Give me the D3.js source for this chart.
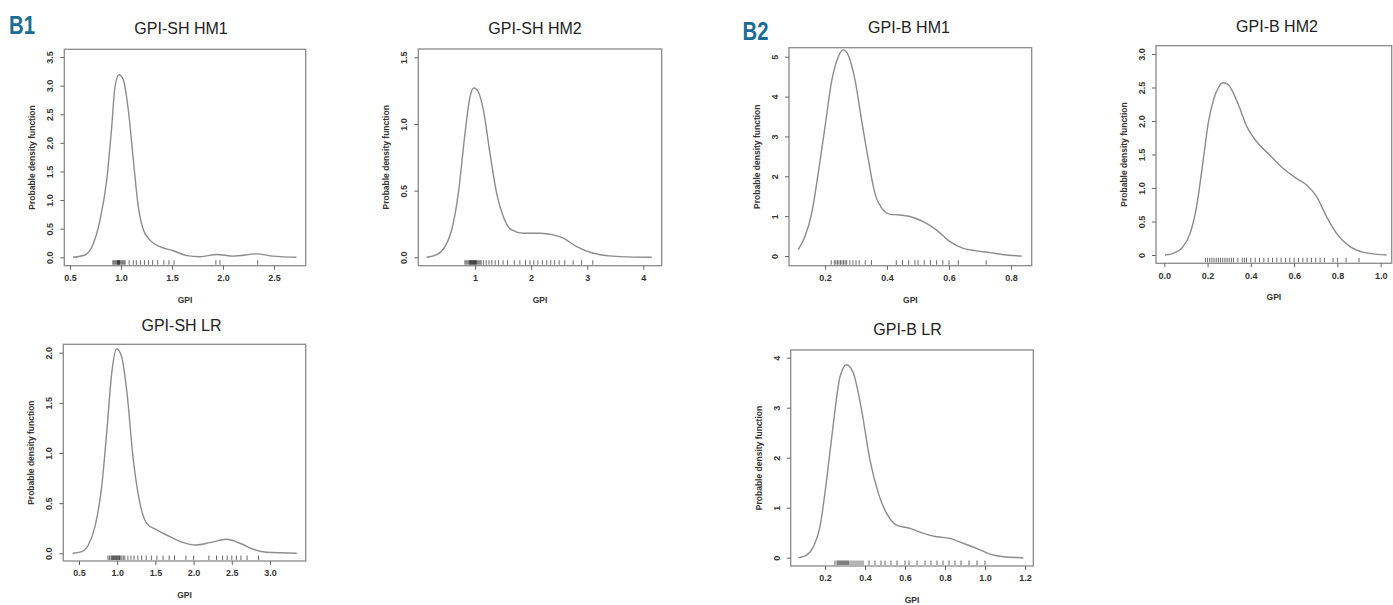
<!DOCTYPE html>
<html>
<head>
<meta charset="utf-8">
<script src="https://cdn.jsdelivr.net/npm/d3@7"></script>
<style>
  body { margin: 0; background: #fff; }
  svg { display: block; }
  text { font-family: "Liberation Sans", Arial, sans-serif; }
</style>
</head>
<body>
<div id="viz-container"></div>
<script>
// panel titles, in drawing order
const titles = ["GPI-SH HM1", "GPI-SH HM2", "GPI-B HM1", "GPI-B HM2", "GPI-SH LR", "GPI-B LR"];

// density curves, [GPI, density]
const shHM1 = [[0.53,0],[0.647,0.04],[0.729,0.24],[0.794,0.65],[0.86,1.35],[0.909,2.28],[0.941,2.98],[0.98,3.19],
  [1.023,3.1],[1.072,2.57],[1.121,1.7],[1.17,0.88],[1.219,0.48],[1.284,0.3],[1.382,0.185],[1.513,0.115],
  [1.644,0.03],[1.775,0.01],[1.938,0.05],[2.1,0.02],[2.33,0.06],[2.49,0.02],[2.72,0]];
const shHM2 = [[0.138,0],[0.317,0.02],[0.465,0.08],[0.584,0.205],[0.703,0.48],[0.822,0.93],[0.911,1.205],[0.982,1.27],
  [1.06,1.24],[1.149,1.105],[1.267,0.78],[1.386,0.48],[1.505,0.305],[1.654,0.205],[1.862,0.18],[2.159,0.18],
  [2.396,0.168],[2.575,0.143],[2.812,0.08],[3.109,0.03],[3.585,0.005],[4.15,0]];
const bHM1 = [[0.114,0.167],[0.135,0.485],[0.157,1.07],[0.178,2.07],[0.2,3.24],[0.222,4.41],[0.243,5.0],[0.259,5.17],
  [0.275,5.04],[0.297,4.41],[0.318,3.41],[0.34,2.41],[0.361,1.57],[0.383,1.2],[0.41,1.045],[0.442,1.03],
  [0.474,0.99],[0.517,0.86],[0.56,0.65],[0.603,0.36],[0.646,0.19],[0.689,0.13],[0.732,0.084],[0.786,0.025],[0.834,0]];
const bHM2 = [[0.003,0],[0.042,0.025],[0.08,0.1],[0.119,0.32],[0.149,0.72],[0.18,1.42],[0.203,1.97],[0.227,2.31],
  [0.25,2.5],[0.273,2.57],[0.296,2.54],[0.334,2.31],[0.381,1.92],[0.427,1.69],[0.488,1.49],[0.55,1.29],
  [0.612,1.14],[0.658,1.045],[0.704,0.87],[0.75,0.57],[0.797,0.32],[0.858,0.124],[0.92,0.04],[1.028,0]];
const shLR = [[0.417,0],[0.535,0.017],[0.622,0.083],[0.709,0.266],[0.797,0.664],[0.862,1.196],[0.928,1.794],[0.993,2.04],
  [1.058,1.96],[1.124,1.628],[1.211,0.93],[1.298,0.498],[1.386,0.299],[1.517,0.233],[1.691,0.166],[1.866,0.106],
  [2.018,0.083],[2.215,0.106],[2.433,0.14],[2.607,0.1],[2.782,0.04],[2.956,0.01],[3.35,0]];
const bLR = [[0.067,0],[0.108,0.053],[0.142,0.22],[0.175,0.62],[0.208,1.553],[0.242,2.687],[0.275,3.62],[0.308,3.86],
  [0.342,3.687],[0.383,2.953],[0.425,1.953],[0.467,1.287],[0.508,0.887],[0.558,0.653],[0.625,0.587],[0.692,0.487],
  [0.758,0.42],[0.825,0.387],[0.892,0.287],[0.958,0.187],[1.025,0.073],[1.092,0.02],[1.192,0]];

// rug values (observations)
const rugSHHM1 = [0.92,0.93,0.94,0.95,0.96,0.965,0.97,0.975,0.98,0.985,0.99,1.0,1.01,1.02,1.03,1.04,
  1.08,1.12,1.15,1.19,1.23,1.27,1.31,1.36,1.42,1.47,1.52,1.93,1.97,2.34];
const rugSHHM2 = [0.82,0.84,0.86,0.88,0.9,0.91,0.92,0.93,0.94,0.95,0.96,0.97,0.98,0.99,1.0,1.01,1.02,1.03,1.05,1.07,1.09,1.11,
  1.15,1.2,1.25,1.3,1.36,1.42,1.5,1.58,1.7,1.8,1.9,1.98,2.05,2.12,2.2,2.28,2.35,2.42,2.5,2.6,2.75,2.9,3.1];
const rugBHM1 = [0.22,0.23,0.235,0.24,0.245,0.25,0.255,0.26,0.265,0.27,0.28,0.29,0.3,0.31,0.33,0.35,
  0.43,0.45,0.47,0.49,0.5,0.52,0.54,0.56,0.58,0.6,0.63,0.72];
const rugBHM2 = [0.19,0.2,0.21,0.22,0.23,0.24,0.25,0.26,0.27,0.28,0.29,0.3,0.31,0.32,0.34,0.36,0.37,0.38,
  0.4,0.42,0.44,0.46,0.48,0.5,0.52,0.54,0.56,0.58,0.6,0.62,0.64,0.66,0.68,0.7,0.72,0.74,0.78,0.8,0.84,0.9];
const rugSHLR = [0.88,0.9,0.92,0.93,0.94,0.95,0.96,0.97,0.98,0.99,1.0,1.01,1.02,1.03,1.04,1.06,1.08,1.1,
  1.14,1.18,1.22,1.27,1.32,1.38,1.45,1.52,1.6,1.68,1.75,1.9,2.0,2.2,2.3,2.38,2.44,2.5,2.56,2.62,2.7,2.85];
const rugBLR = [0.25,0.26,0.265,0.27,0.275,0.28,0.285,0.29,0.295,0.3,0.305,0.31,0.315,0.32,0.33,0.34,0.35,0.36,0.37,0.38,0.39,
  0.42,0.45,0.48,0.5,0.53,0.56,0.6,0.62,0.66,0.7,0.73,0.76,0.79,0.82,0.85,0.88,0.92,0.96,1.0];

// tick labels
const xTicks = [
  ["0.5","1.0","1.5","2.0","2.5"],
  ["1","2","3","4"],
  ["0.2","0.4","0.6","0.8"],
  ["0.0","0.2","0.4","0.6","0.8","1.0"],
  ["0.5","1.0","1.5","2.0","2.5","3.0"],
  ["0.2","0.4","0.6","0.8","1.0","1.2"]
];
const yTicks = [
  ["0.0","0.5","1.0","1.5","2.0","2.5","3.0","3.5"],
  ["0.0","0.5","1.0","1.5"],
  ["0","1","2","3","4","5"],
  ["0","0.5","1.0","1.5","2.0","2.5","3.0"],
  ["0.0","0.5","1.0","1.5","2.0"],
  ["0","1","2","3","4"]
];

const curves = [shHM1, shHM2, bHM1, bHM2, shLR, bLR];
const rugs = [rugSHHM1, rugSHHM2, rugBHM1, rugBHM2, rugSHLR, rugBLR];

// layout: plot box in px, and two reference ticks per axis (value -> px)
const layout = [
  {l:64.3, r:305.7, t:49.3, b:265.7, xv:[0.5,2.5], xp:[70,274], yv:[0,3.5], yp:[257.3,57], tx:181, ty:33.5},
  {l:418.3, r:661.7, t:49, b:265.7, xv:[1,4], xp:[475,643.3], yv:[0,1.5], yp:[257.3,57.3], tx:535, ty:33.5},
  {l:789, r:1031.7, t:47.7, b:265.7, xv:[0.2,0.8], xp:[825,1011], yv:[0,5], yp:[256,56.7], tx:909, ty:32.5},
  {l:1156, r:1391.7, t:45.7, b:263.3, xv:[0,1], xp:[1164.3,1380.7], yv:[0,3], yp:[255,54], tx:1277, ty:31.5},
  {l:63.3, r:305.7, t:344.3, b:561, xv:[0.5,3], xp:[79,270], yv:[0,2], yp:[553.3,352.7], tx:181.5, ty:331},
  {l:790.7, r:1033.3, t:350, b:566, xv:[0.2,1.2], xp:[825,1025], yv:[0,4], yp:[557.7,357.7], tx:907.5, ty:335}
];

let viz = d3.select("#viz-container")
  .append("svg")
  .attr("width", 1393)
  .attr("height", 605);

viz.append("rect").attr("width", 1393).attr("height", 605).attr("fill", "#fff");

// panel letters, narrowed bold sans
function panelLetter(txt, x, y) {
  viz.append("text").text(txt)
    .attr("transform", "translate(" + x + "," + y + ") scale(0.78,1)")
    .attr("fill", "#1b6c95")
    .style("font-weight", "bold").style("font-size", "26px");
}
panelLetter("B1", 9, 33.5);
panelLetter("B2", 742.5, 40);

layout.forEach(function(L, i) {
  let x = d3.scaleLinear().domain(L.xv).range(L.xp);
  let y = d3.scaleLinear().domain(L.yv).range(L.yp);
  let g = viz.append("g").attr("class", "panel");

  // box
  g.append("rect")
    .attr("x", L.l).attr("y", L.t)
    .attr("width", L.r - L.l).attr("height", L.b - L.t)
    .attr("fill", "none").attr("stroke", "#8a8a8a").attr("stroke-width", 1.3);

  // x axis
  let xa = g.append("g")
    .attr("transform", "translate(0," + L.b + ")")
    .call(d3.axisBottom(x).tickValues(xTicks[i].map(Number)).tickFormat((d, k) => xTicks[i][k]).tickSize(4).tickPadding(5));
  // y axis
  let ya = g.append("g")
    .attr("transform", "translate(" + L.l + ",0)")
    .call(d3.axisLeft(y).tickValues(yTicks[i].map(Number)).tickFormat((d, k) => yTicks[i][k]).tickSize(4));
  [xa, ya].forEach(a => {
    a.select(".domain").remove();
    a.selectAll(".tick line").attr("stroke", "#666").attr("stroke-width", 1);
    a.selectAll(".tick text")
      .attr("fill", "#333")
      .style("font-size", "9px").style("font-weight", "bold");
  });
  ya.selectAll(".tick text")
    .attr("x", null).attr("dy", null)
    .attr("text-anchor", "middle")
    .attr("transform", "translate(-11,0) rotate(-90)");

  // axis titles
  g.append("text").text("GPI")
    .attr("x", (L.l + L.r) / 2).attr("y", L.b + 37)
    .attr("text-anchor", "middle").attr("fill", "#333")
    .style("font-size", "8.5px").style("font-weight", "bold");
  g.append("text").text("Probable density function")
    .attr("transform", "translate(" + (L.l - 29) + "," + ((L.t + L.b) / 2) + ") rotate(-90)")
    .attr("text-anchor", "middle").attr("fill", "#333")
    .style("font-size", "8.5px").style("font-weight", "bold");

  // title
  g.append("text").text(titles[i])
    .attr("x", L.tx).attr("y", L.ty)
    .attr("text-anchor", "middle").attr("fill", "#222")
    .style("font-size", "16px");

  // rug
  g.selectAll(".rug").data(rugs[i]).enter().append("line")
    .attr("class", "rug")
    .attr("x1", d => x(d)).attr("x2", d => x(d))
    .attr("y1", L.b - 1).attr("y2", L.b - 5.5)
    .attr("stroke", "#111").attr("stroke-opacity", 0.7).attr("stroke-width", 0.9);

  // density curve
  let line = d3.line()
    .x(d => x(d[0]))
    .y(d => y(d[1]))
    .curve(d3.curveMonotoneX);
  g.append("path")
    .datum(curves[i])
    .attr("d", line)
    .attr("fill", "none")
    .attr("stroke", "#8c8c8c")
    .attr("stroke-width", 1.4);
});
</script>
</body>
</html>
